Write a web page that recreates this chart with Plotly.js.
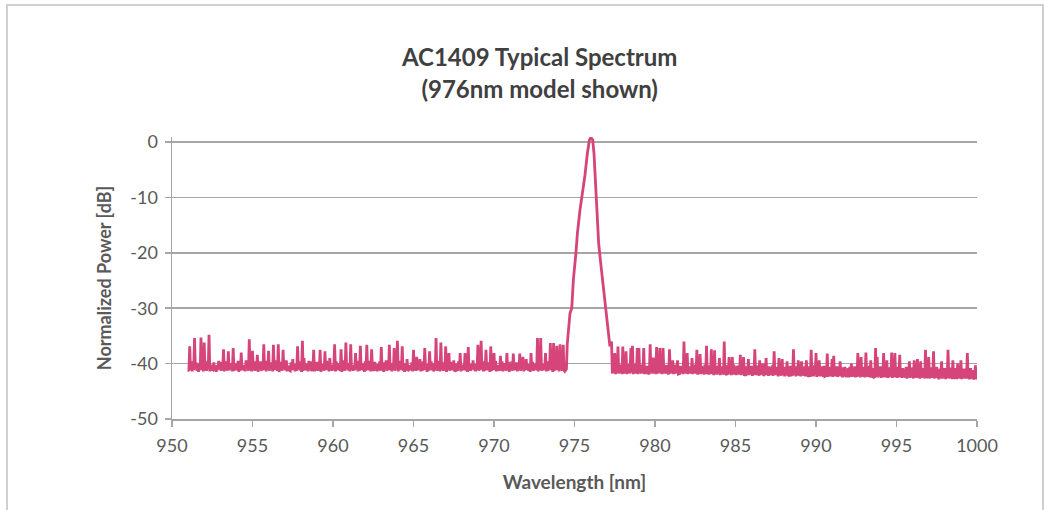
<!DOCTYPE html>
<html>
<head>
<meta charset="utf-8">
<script src="https://cdn.plot.ly/plotly-3.0.1.min.js"></script>
<style>
  html, body { margin: 0; padding: 0; background: #fff; }
  #frame { position: absolute; left: 6px; top: 4px; width: 1034px; height: 530px;
           border-top: 2px solid #d0d0d0; border-left: 2px solid #d0d0d0; border-right: 2px solid #d0d0d0; }
  #chart { position: absolute; left: 0; top: 0; width: 1052px; height: 510px; }
</style>
</head>
<body>
<div id="frame"></div>
<div id="chart"></div>
<script>
// Sampling grid of the recorded noise segments (nm)
const leftStart = 951.0;
const rightStart = 977.3;
const gridStep = 0.1;

// Noise floor, left of the peak: samples at 951.0, 951.1 .. 974.4 nm (dB)
const leftNoise = [
  -41.2, -36.9, -40.1, -39.6, -35.4, -39.8, -40.3, -39.9, -35.3, -40.4,
  -36.2, -39.7, -39.6, -34.8, -40.2, -41.0, -39.8, -40.4, -40.3, -39.5,
  -39.7, -40.5, -37.4, -39.6, -40.2, -37.8, -39.9, -39.9, -37.2, -40.6,
  -40.0, -39.5, -39.6, -38.0, -40.8, -40.3, -39.4, -39.7, -35.6, -40.1,
  -37.7, -39.6, -40.0, -38.4, -39.8, -39.6, -40.9, -36.5, -40.2, -39.5,
  -37.7, -40.1, -39.8, -36.6, -39.4, -40.2, -36.5, -40.6, -39.7, -37.5,
  -40.0, -39.4, -40.4, -41.2, -39.8, -39.2, -40.5, -40.1, -36.9, -39.6,
  -40.3, -35.9, -39.0, -40.6, -40.0, -39.5, -39.6, -41.1, -37.5, -40.6,
  -39.7, -39.8, -37.5, -40.4, -40.1, -37.8, -39.5, -39.7, -39.0, -40.2,
  -40.2, -36.5, -39.6, -39.9, -40.7, -37.4, -40.5, -39.4, -36.2, -40.0,
  -39.9, -36.5, -40.6, -40.3, -38.1, -39.5, -39.8, -36.8, -40.4, -40.0,
  -39.6, -36.6, -40.2, -39.5, -37.4, -41.0, -39.7, -40.3, -40.1, -39.6,
  -37.0, -40.5, -39.8, -39.4, -40.4, -36.6, -40.1, -39.9, -37.2, -39.7,
  -35.9, -40.6, -39.5, -36.9, -40.3, -40.0, -39.2, -41.2, -40.3, -39.8,
  -37.5, -40.4, -38.8, -40.1, -39.2, -40.2, -39.6, -37.2, -40.5, -40.1,
  -37.8, -39.6, -39.9, -40.7, -35.4, -39.5, -40.3, -36.2, -40.2, -39.8,
  -36.9, -40.5, -38.1, -39.7, -40.4, -39.4, -41.2, -40.0, -39.6, -38.1,
  -40.4, -40.2, -38.1, -39.6, -37.0, -40.6, -40.1, -39.4, -40.5, -40.1,
  -36.6, -39.7, -35.9, -40.4, -39.6, -37.5, -40.3, -39.8, -36.9, -40.2,
  -38.1, -39.5, -40.3, -40.8, -38.6, -39.6, -39.9, -40.4, -38.1, -39.7,
  -40.2, -39.6, -38.2, -40.5, -39.8, -40.3, -38.2, -39.9, -38.8, -40.6,
  -39.2, -40.1, -40.3, -38.1, -39.7, -40.0, -40.5, -35.4, -40.2, -35.4,
  -40.1, -40.2, -38.1, -39.6, -39.8, -36.3, -40.3, -36.3, -39.9, -36.8,
  -40.4, -36.5, -40.6, -36.6, -41.4
];
// Noise floor minima between those samples: 951.05 .. 974.35 nm (dB)
const leftFloor = [
  -41.3, -41.1, -41.4, -41.2, -41.0, -41.3, -41.5, -41.2, -41.1, -41.4,
  -41.2, -41.3, -41.0, -41.4, -41.2, -41.1, -41.3, -41.5, -41.2, -41.0,
  -41.3, -41.2, -41.4, -41.1, -41.3, -41.2, -41.0, -41.4, -41.3, -41.1,
  -41.2, -41.5, -41.3, -41.1, -41.2, -41.4, -41.0, -41.3, -41.2, -41.4,
  -41.1, -41.3, -41.2, -41.5, -41.0, -41.3, -41.2, -41.1, -41.4, -41.2,
  -41.3, -41.0, -41.4, -41.2, -41.1, -41.3, -41.5, -41.2, -41.3, -41.0,
  -41.2, -41.4, -41.1, -41.3, -41.2, -41.0, -41.4, -41.3, -41.1, -41.2,
  -41.5, -41.3, -41.1, -41.2, -41.4, -41.0, -41.3, -41.2, -41.4, -41.1,
  -41.3, -41.2, -41.5, -41.0, -41.3, -41.2, -41.1, -41.4, -41.2, -41.3,
  -41.0, -41.4, -41.2, -41.1, -41.3, -41.5, -41.2, -41.3, -41.0, -41.2,
  -41.4, -41.1, -41.3, -41.2, -41.0, -41.4, -41.3, -41.1, -41.2, -41.5,
  -41.3, -41.1, -41.2, -41.4, -41.0, -41.3, -41.2, -41.4, -41.1, -41.3,
  -41.2, -41.5, -41.0, -41.3, -41.2, -41.1, -41.4, -41.2, -41.3, -41.0,
  -41.4, -41.2, -41.1, -41.3, -41.5, -41.2, -41.3, -41.0, -41.2, -41.4,
  -41.1, -41.3, -41.2, -41.0, -41.4, -41.3, -41.1, -41.2, -41.5, -41.3,
  -41.1, -41.2, -41.4, -41.0, -41.3, -41.2, -41.4, -41.1, -41.3, -41.2,
  -41.5, -41.0, -41.3, -41.2, -41.1, -41.4, -41.2, -41.3, -41.0, -41.4,
  -41.2, -41.1, -41.3, -41.5, -41.2, -41.3, -41.0, -41.2, -41.4, -41.1,
  -41.3, -41.2, -41.0, -41.4, -41.3, -41.1, -41.2, -41.5, -41.3, -41.1,
  -41.2, -41.4, -41.0, -41.3, -41.2, -41.4, -41.1, -41.3, -41.2, -41.5,
  -41.0, -41.3, -41.2, -41.1, -41.4, -41.2, -41.3, -41.0, -41.4, -41.2,
  -41.1, -41.3, -41.5, -41.2, -41.3, -41.0, -41.2, -41.4, -41.1, -41.3,
  -41.2, -41.0, -41.4, -41.3, -41.1, -41.2, -41.5, -41.3, -41.1, -41.2,
  -41.4, -41.0, -41.3, -41.2
];

// Laser peak (nm, dB)
const peakWl = [974.50, 974.55, 974.72, 974.83, 974.93, 975.09, 975.18, 975.34, 975.51, 975.65,
                975.80, 975.93, 976.02, 976.13, 976.21, 976.27, 976.34, 976.42, 976.50, 976.63,
                976.79, 976.96, 977.10, 977.20];
const peakDb = [-41.0, -36.5, -30.9, -30.0, -24.9, -20.0, -16.5, -12.3, -9.0, -6.0,
                -2.0, 0.4, 0.8, 0.4, -2.0, -5.7, -10.0, -14.1, -18.3, -21.9,
                -26.1, -30.3, -34.5, -36.9];

// Noise floor, right of the peak: samples at 977.3, 977.4 .. 1000.0 nm (dB)
const rightNoise = [
  -36.0, -40.3, -38.1, -40.6, -36.9, -40.6, -40.2,
  -36.9, -40.5, -37.8, -40.1, -40.3, -37.2, -36.8, -40.6, -40.1, -37.2,
  -37.2, -40.4, -40.2, -37.2, -40.7, -40.4, -41.7, -36.5, -40.3, -38.9,
  -40.5, -37.0, -40.5, -37.2, -40.2, -37.2, -40.6, -40.3, -41.7, -37.4,
  -40.4, -39.4, -40.6, -40.2, -39.4, -41.9, -40.4, -40.7, -36.0, -40.3,
  -38.1, -40.6, -40.5, -39.0, -40.3, -40.2, -37.5, -40.8, -38.3, -40.4,
  -40.6, -40.2, -36.8, -40.5, -40.3, -37.4, -40.7, -37.6, -40.4, -40.4,
  -39.0, -40.6, -40.5, -36.0, -41.8, -40.3, -38.8, -40.5, -38.8, -40.2,
  -40.6, -40.4, -40.3, -38.4, -40.7, -38.8, -42.0, -40.5, -39.2, -40.6,
  -40.4, -40.8, -37.4, -40.3, -40.6, -39.4, -40.5, -40.0, -41.9, -39.0,
  -40.7, -40.5, -40.9, -40.3, -37.8, -40.6, -40.6, -39.0, -40.4, -39.2,
  -40.7, -40.6, -39.6, -42.1, -40.4, -40.8, -37.4, -40.5, -40.9, -39.4,
  -40.6, -39.6, -40.8, -40.5, -39.4, -42.2, -40.5, -37.5, -40.7, -40.3,
  -38.1, -40.8, -39.4, -40.7, -40.5, -40.4, -42.2, -38.2, -40.6, -40.9,
  -39.2, -38.6, -40.7, -40.5, -41.0, -39.6, -40.8, -40.7, -40.6, -42.2,
  -40.8, -40.6, -40.0, -40.9, -40.5, -40.7, -38.1, -40.8, -38.8, -40.6,
  -40.6, -38.0, -40.9, -40.4, -39.4, -42.3, -40.8, -37.2, -38.8, -40.7,
  -40.5, -40.9, -38.1, -40.6, -39.4, -40.7, -41.1, -38.0, -40.8, -38.1,
  -40.7, -40.6, -38.4, -40.9, -40.8, -42.2, -40.6, -41.0, -39.6, -40.8,
  -40.7, -39.4, -40.9, -39.2, -41.0, -39.6, -40.8, -40.8, -37.5, -42.4,
  -38.8, -40.9, -40.7, -37.8, -41.1, -40.6, -42.5, -40.9, -39.6, -40.8,
  -40.8, -41.0, -37.5, -40.9, -40.7, -39.4, -42.5, -40.8, -40.0, -41.1,
  -39.4, -40.9, -40.9, -41.2, -38.1, -42.5, -40.8, -41.2, -42.6, -40.3,
  -42.6
];
// Noise floor minima between those samples: 977.35 .. 999.95 nm (dB)
const rightFloor = [
  -41.8, -41.6, -41.9, -41.7, -41.8, -41.6, -41.9, -41.8, -41.7, -41.9,
  -41.7, -41.8, -41.6, -41.9, -41.7, -41.8, -41.9, -41.6, -41.8, -41.7,
  -41.9, -41.8, -41.7, -41.9, -41.6, -41.8, -41.7, -41.9, -41.8, -41.6,
  -41.8, -41.9, -41.7, -41.8, -41.6, -41.9, -41.8, -41.7, -41.9, -41.8,
  -41.7, -41.9, -41.8, -41.6, -41.9, -41.7, -41.8, -41.9, -41.7, -41.8,
  -41.9, -41.7, -41.8, -42.0, -41.8, -41.9, -41.7, -42.0, -41.8, -41.9,
  -42.0, -41.8, -41.9, -42.1, -41.9, -42.0, -41.8, -42.1, -41.9, -42.0,
  -41.9, -42.1, -42.0, -41.8, -42.1, -41.9, -42.0, -42.1, -41.9, -42.0,
  -42.1, -41.9, -42.0, -42.2, -42.0, -42.1, -41.9, -42.2, -42.0, -42.1,
  -42.0, -42.2, -42.1, -41.9, -42.2, -42.0, -42.1, -42.2, -42.0, -42.1,
  -42.2, -42.0, -42.1, -42.3, -42.1, -42.2, -42.0, -42.3, -42.1, -42.2,
  -42.1, -42.3, -42.2, -42.0, -42.3, -42.1, -42.2, -42.3, -42.1, -42.2,
  -42.3, -42.1, -42.2, -42.4, -42.2, -42.3, -42.1, -42.4, -42.2, -42.3,
  -42.2, -42.4, -42.3, -42.1, -42.4, -42.2, -42.3, -42.4, -42.2, -42.3,
  -42.4, -42.2, -42.3, -42.5, -42.3, -42.4, -42.2, -42.5, -42.3, -42.4,
  -42.3, -42.5, -42.4, -42.2, -42.5, -42.3, -42.4, -42.5, -42.3, -42.4,
  -42.5, -42.3, -42.4, -42.6, -42.4, -42.5, -42.3, -42.6, -42.4, -42.5,
  -42.4, -42.6, -42.5, -42.3, -42.6, -42.4, -42.5, -42.6, -42.4, -42.5,
  -42.6, -42.4, -42.5, -42.7, -42.5, -42.6, -42.4, -42.7, -42.5, -42.6,
  -42.5, -42.7, -42.6, -42.4, -42.7, -42.5, -42.6, -42.7, -42.5, -42.6,
  -42.7, -42.5, -42.6, -42.8, -42.6, -42.7, -42.5, -42.8, -42.6, -42.7,
  -42.6, -42.8, -42.7, -42.5, -42.8, -42.6, -42.7, -42.8, -42.6, -42.7,
  -42.7, -42.6, -42.8, -42.7, -42.6, -42.8, -42.7
];

// Tick labels
const xTicks = [950, 955, 960, 965, 970, 975, 980, 985, 990, 995, 1000];
const yTicks = [0, -10, -20, -30, -40, -50];

const wl = [], db = [];
function addNoise(start, samples, floors) {
  samples.forEach((v, i) => {
    wl.push(+(start + i * gridStep).toFixed(3)); db.push(v);
    if (i < floors.length) { wl.push(+(start + i * gridStep + gridStep / 2).toFixed(3)); db.push(floors[i]); }
  });
}
addNoise(leftStart, leftNoise, leftFloor);
peakWl.forEach((w, i) => { wl.push(w); db.push(peakDb[i]); });
addNoise(rightStart, rightNoise, rightFloor);

const font = 'Lato, "Open Sans", "Liberation Sans", sans-serif';

const trace = {
  x: wl, y: db, type: 'scatter', mode: 'lines',
  line: { color: '#d6457a', width: 2.8 },
  hoverinfo: 'x+y'
};

const layout = {
  width: 1052, height: 510,
  margin: { l: 172, r: 75, t: 137, b: 91 },
  paper_bgcolor: 'rgba(0,0,0,0)', plot_bgcolor: 'rgba(0,0,0,0)',
  showlegend: false,
  font: { family: font, color: '#595959', size: 18 },
  title: {
    text: '<b>AC1409 Typical Spectrum<br>(976nm model shown)</b>',
    font: { family: font, size: 24, color: '#404040' },
    x: 0.513, xanchor: 'center', y: 0.870, yanchor: 'middle'
  },
  xaxis: {
    range: [950, 1000], tickvals: xTicks, ticktext: xTicks.map(String),
    showgrid: false, zeroline: false,
    showline: true, linecolor: '#a6a6a6', linewidth: 1.5,
    ticks: 'outside', ticklen: 6, tickcolor: '#a6a6a6', tickwidth: 1.5,
    ticklabelstandoff: 4,
    tickfont: { family: font, size: 18, color: '#595959' },
    title: { text: '<b>Wavelength [nm]</b>', font: { family: font, size: 19, color: '#595959' }, standoff: 20 }
  },
  yaxis: {
    range: [-50, 0.9], tickvals: yTicks, ticktext: yTicks.map(String),
    showgrid: true, gridcolor: '#a6a6a6', gridwidth: 1.5, zeroline: false,
    showline: true, linecolor: '#a6a6a6', linewidth: 1.5,
    ticks: 'outside', ticklen: 6, tickcolor: '#a6a6a6', tickwidth: 1.5,
    ticklabelstandoff: 3,
    tickfont: { family: font, size: 18, color: '#595959' },
    title: { text: '<b>Normalized Power [dB]</b>', font: { family: font, size: 18, color: '#595959' }, standoff: 14 }
  }
};

Plotly.newPlot('chart', [trace], layout, { displayModeBar: false, staticPlot: true });
</script>
</body>
</html>
